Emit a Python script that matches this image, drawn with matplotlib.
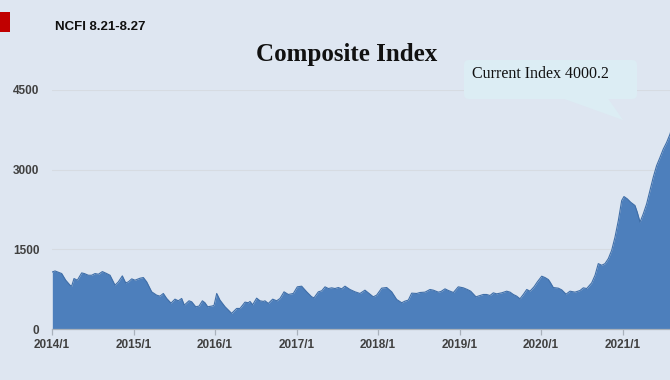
import matplotlib
matplotlib.use("Agg")
import matplotlib.pyplot as plt
from matplotlib.patches import FancyBboxPatch, Polygon, Rectangle

# ---- data (decimal year, index value) ----
t_2014_2015 = [2014.004, 2014.037, 2014.119, 2014.168, 2014.221, 2014.241, 2014.270, 2014.311,
               2014.364, 2014.397, 2014.446, 2014.487, 2014.528, 2014.569, 2014.618, 2014.671,
               2014.712, 2014.773, 2014.814, 2014.863, 2014.904, 2014.937, 2014.978,
               2015.018, 2015.080, 2015.121, 2015.162, 2015.223, 2015.284, 2015.325, 2015.366,
               2015.407, 2015.460, 2015.509, 2015.550, 2015.591, 2015.623, 2015.681, 2015.714,
               2015.763, 2015.804, 2015.845, 2015.877, 2015.910, 2015.959, 2015.988]
v_2014_2015 = [1074, 1093, 1044, 919, 825, 806, 950, 919,
               1056, 1044, 1012, 1012, 1044, 1031, 1081, 1044,
               1012, 825, 887, 1000, 869, 887, 944,
               919, 956, 969, 887, 700, 637, 619, 669,
               575, 487, 562, 531, 575, 450, 531, 512,
               419, 431, 531, 494, 419, 431, 444]

t_2016_2017 = [2016.021, 2016.061, 2016.123, 2016.204, 2016.266, 2016.307, 2016.368, 2016.409,
               2016.429, 2016.462, 2016.511, 2016.552, 2016.593, 2016.613, 2016.654, 2016.708,
               2016.757, 2016.798, 2016.847, 2016.900, 2016.961,
               2017.010, 2017.063, 2017.125, 2017.186, 2017.215, 2017.268, 2017.309, 2017.350,
               2017.391, 2017.432, 2017.472, 2017.513, 2017.554, 2017.595, 2017.656, 2017.718,
               2017.779, 2017.840, 2017.881, 2017.942, 2017.983]
v_2016_2017 = [669, 544, 419, 294, 387, 387, 506, 494,
               519, 456, 581, 531, 519, 531, 481, 562,
               531, 575, 700, 650, 669,
               794, 806, 700, 606, 587, 700, 719, 794,
               762, 775, 762, 781, 756, 806, 744, 700,
               669, 731, 681, 606, 637]

t_2018_2019 = [2018.045, 2018.107, 2018.168, 2018.229, 2018.291, 2018.331, 2018.372, 2018.413,
               2018.475, 2018.515, 2018.577, 2018.638, 2018.679, 2018.740, 2018.773, 2018.822,
               2018.863, 2018.925, 2018.985,
               2019.047, 2019.096, 2019.137, 2019.202, 2019.252, 2019.292, 2019.333, 2019.374,
               2019.415, 2019.456, 2019.518, 2019.579, 2019.620, 2019.660, 2019.701, 2019.742,
               2019.783, 2019.825, 2019.865, 2019.914, 2019.955]
v_2018_2019 = [769, 781, 700, 556, 494, 525, 544, 675,
               669, 687, 694, 744, 731, 694, 706, 756,
               725, 687, 794,
               775, 744, 712, 606, 631, 650, 650, 631,
               681, 662, 681, 712, 694, 650, 619, 569,
               650, 744, 712, 794, 887]

t_2020_2021 = [2020.009, 2020.049, 2020.090, 2020.110, 2020.151, 2020.212, 2020.254, 2020.307,
               2020.356, 2020.417, 2020.479, 2020.519, 2020.561, 2020.622, 2020.663, 2020.703,
               2020.745, 2020.785, 2020.826, 2020.867, 2020.908, 2020.949, 2020.990,
               2021.018, 2021.059, 2021.100, 2021.153, 2021.181, 2021.215, 2021.255, 2021.296,
               2021.337, 2021.377, 2021.418, 2021.460, 2021.500, 2021.541, 2021.583, 2021.605,
               2021.628, 2021.651]
v_2020_2021 = [994, 969, 931, 887, 781, 769, 737, 656,
               712, 694, 725, 775, 762, 869, 1012, 1231,
               1200, 1231, 1325, 1481, 1731, 2044, 2419,
               2494, 2450, 2387, 2325, 2200, 2012, 2169, 2356,
               2606, 2856, 3075, 3231, 3387, 3512, 3669, 3800,
               3920, 4000.2]

x_ticks = [2014, 2015, 2016, 2017, 2018, 2019, 2020, 2021]
x_labels = ["2014/1", "2015/1", "2016/1", "2017/1", "2018/1", "2019/1", "2020/1", "2021/1"]
y_ticks = [0, 1500, 3000, 4500]

title = "Composite Index"
subtitle = "NCFI 8.21-8.27"
callout = "Current Index 4000.2"

t = t_2014_2015 + t_2016_2017 + t_2018_2019 + t_2020_2021
v = v_2014_2015 + v_2016_2017 + v_2018_2019 + v_2020_2021

BG = "#dee6f1"
FILL = "#4d7fbc"
EDGE = "#3f6ea8"
BOX = "#dcedf4"

fig = plt.figure(figsize=(6.7, 3.8), dpi=100, facecolor=BG)
W, H = 670, 380


def px(x, y):
    """pixel (from top-left) -> inches for dpi_scale_trans"""
    return (x / 100.0, (H - y) / 100.0)


# axes: 2014.0 at x=52px, 81.5px/year; y 0 at 329px, 4500 at 90px
x0 = 52
x_end = 2021.651
ax_w = (x_end - 2014.0) * 81.5
ax = fig.add_axes([x0 / W, (H - 329) / H, ax_w / W, (329 - 90) / H])
ax.set_facecolor(BG)
ax.set_xlim(2014.0, x_end)
ax.set_ylim(0, 4500)

ax.fill_between(t, v, 0, color=FILL, lw=0, zorder=2)
ax.plot(t, v, color=EDGE, lw=0.8, zorder=3)

ax.set_yticks(y_ticks)
ax.set_yticklabels([str(y) for y in y_ticks])
ax.set_xticks(x_ticks)
ax.set_xticklabels(x_labels)
ax.grid(axis="y", color="#d6dbe2", lw=0.8, zorder=1)
ax.grid(axis="x", visible=False)
for s in ["top", "right", "left"]:
    ax.spines[s].set_visible(False)
ax.spines["bottom"].set_color("#a9b1bb")
ax.spines["bottom"].set_linewidth(0.9)
ax.spines["bottom"].set_zorder(4)
ax.tick_params(axis="x", length=4, color="#a9b1bb", width=0.9, pad=3)
ax.tick_params(axis="y", length=0, pad=9)
for lab in ax.get_xticklabels() + ax.get_yticklabels():
    lab.set_fontfamily("Liberation Sans")
    lab.set_fontweight("bold")
    lab.set_fontsize(8.5)
    lab.set_color("#404040")

# red marker
fig.patches.append(Rectangle(px(0, 32), 0.10, 0.20, transform=fig.dpi_scale_trans,
                             facecolor="#c00000", edgecolor="none"))
fig.text(55 / W, 1 - 27 / H, subtitle, fontfamily="Liberation Sans", fontweight="bold",
         fontsize=9.5, color="#111111", va="center", ha="left")
fig.text(347 / W, 1 - 55 / H, title, fontfamily="Liberation Serif", fontweight="bold",
         fontsize=18, color="#111111", va="center", ha="center")

# callout box (rounded, with tail)
box = FancyBboxPatch(px(464, 99), (637 - 464) / 100.0, (99 - 60) / 100.0,
                     boxstyle="round,pad=0,rounding_size=0.05", transform=fig.dpi_scale_trans,
                     facecolor=BOX, edgecolor="none", zorder=5)
fig.patches.append(box)
tail = Polygon([px(563, 98.5), px(608, 98.5), px(623, 120)],
               closed=True, transform=fig.dpi_scale_trans, facecolor=BOX, edgecolor="none",
               zorder=5)
fig.patches.append(tail)
fig.text(472 / W, 1 - 74 / H, callout, fontfamily="Liberation Serif", fontsize=11.5,
         color="#111111", va="center", ha="left", zorder=6)

fig.savefig("out.png", dpi=100, facecolor=BG)
